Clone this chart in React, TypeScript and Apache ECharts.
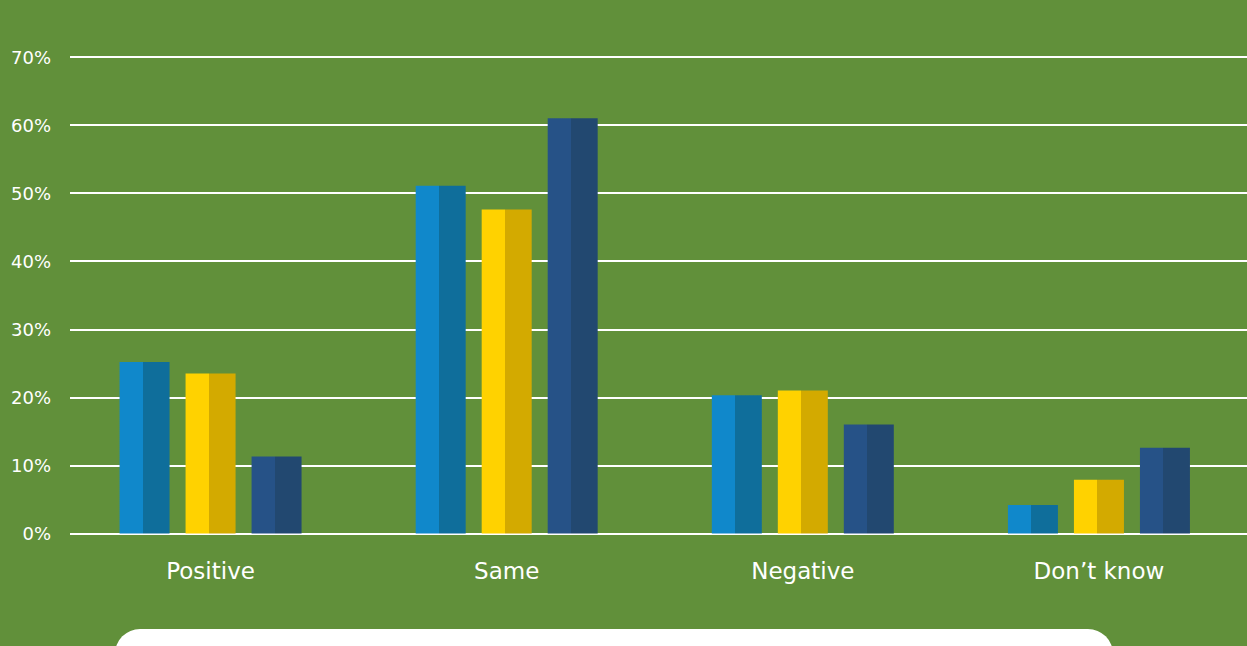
import React, { useEffect, useRef } from "react";
import * as echarts from "echarts";

const categories = ["Positive", "Same", "Negative", "Don’t know"];
const seriesNames = ["Series 1", "Series 2", "Series 3"];
const blueValues = [25.2, 51.1, 20.3, 4.2];
const yellowValues = [23.5, 47.6, 21.0, 7.9];
const navyValues = [11.3, 61.0, 16.0, 12.6];
const yTicks = [0, 10, 20, 30, 40, 50, 60, 70];

const BG = "#61903A";
const FONT = "'DejaVu Sans', sans-serif";

function split(light: string, dark: string) {
  return new echarts.graphic.LinearGradient(0, 0, 1, 0, [
    { offset: 0, color: light },
    { offset: 0.46, color: light },
    { offset: 0.46, color: dark },
    { offset: 1, color: dark },
  ]);
}

export default function App() {
  const ref = useRef<HTMLDivElement>(null);
  useEffect(() => {
    if (!ref.current) return;
    const chart = echarts.init(ref.current, null, { renderer: "svg" });
    const top = 57;
    const bottom = 646 - 533.5;
    const seriesData = [blueValues, yellowValues, navyValues];
    const colors = [
      split("#1088CB", "#0F6E9B"),
      split("#FFD200", "#D3AA00"),
      split("#265287", "#224870"),
    ];
    chart.setOption({
      animation: false,
      backgroundColor: BG,
      textStyle: { fontFamily: FONT },
      grid: [
        { left: 70, right: 0, top, bottom },
        { left: 62.5, width: 1189, top, bottom },
      ],
      xAxis: [
        { type: "category", gridIndex: 0, data: categories, show: false },
        {
          type: "category",
          gridIndex: 1,
          data: categories,
          axisLine: { show: false },
          axisTick: { show: false },
          splitLine: { show: false },
          axisLabel: {
            color: "#ffffff",
            fontFamily: FONT,
            fontSize: 23,
            margin: 26,
          },
        },
      ],
      yAxis: [
        {
          type: "value",
          gridIndex: 0,
          min: yTicks[0],
          max: yTicks[yTicks.length - 1],
          interval: 10,
          axisLine: { show: false },
          axisTick: { show: false },
          splitLine: { show: true, lineStyle: { color: "#ffffff", width: 2 } },
          axisLabel: {
            color: "#ffffff",
            fontFamily: FONT,
            fontSize: 18,
            margin: 19,
            formatter: "{value}%",
          },
        },
        {
          type: "value",
          gridIndex: 1,
          min: yTicks[0],
          max: yTicks[yTicks.length - 1],
          interval: 10,
          show: false,
        },
      ],
      series: seriesData.map((d, i) => ({
        name: seriesNames[i],
        type: "bar",
        xAxisIndex: 1,
        yAxisIndex: 1,
        data: d,
        barWidth: 50,
        barGap: "32%",
        itemStyle: { color: colors[i] },
        z: 3,
      })),
      graphic: [
        {
          type: "rect",
          left: 115,
          top: 629,
          shape: { width: 998, height: 60, r: 25 },
          style: { fill: "#ffffff" },
          z: 10,
        },
      ],
    });
    return () => chart.dispose();
  }, []);
  return (
    <div
      ref={ref}
      style={{ position: "absolute", left: 0, top: 0, width: 1247, height: 646 }}
    />
  );
}
